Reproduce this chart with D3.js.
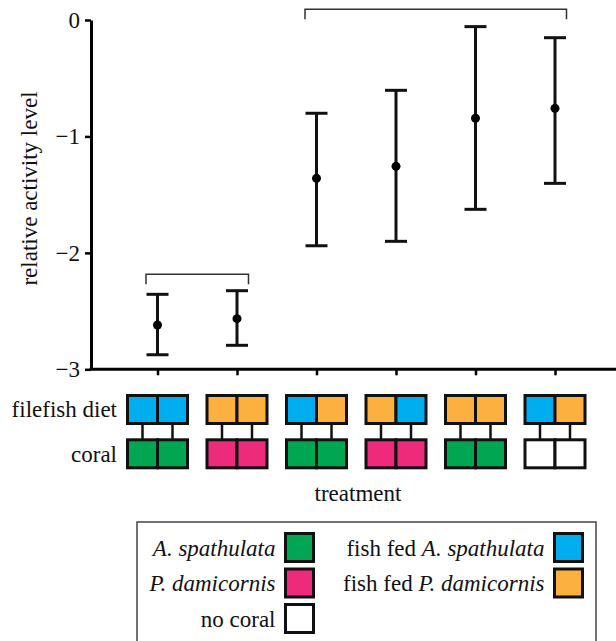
<!DOCTYPE html>
<html>
<head>
<meta charset="utf-8">
<script src="https://cdn.jsdelivr.net/npm/d3@7"></script>
<style>
  body { margin: 0; background: #fff; }
</style>
</head>
<body>
<svg id="fig" width="616" height="641"></svg>
<script>
// treatments, left to right
const treatments = ["T1", "T2", "T3", "T4", "T5", "T6"];
const means = [-2.62, -2.565, -1.36, -1.257, -0.844, -0.759];
const upper = [-2.356, -2.325, -0.801, -0.604, -0.057, -0.152];
const lower = [-2.875, -2.794, -1.939, -1.901, -1.626, -1.403];
const yTicks = [0, -1, -2, -3];

// filefish diet / coral of the two cells in each treatment
const dietCells = [["Af", "Af"], ["Pf", "Pf"], ["Af", "Pf"], ["Pf", "Af"], ["Pf", "Pf"], ["Af", "Pf"]];
const coralCells = [["A", "A"], ["P", "P"], ["A", "A"], ["P", "P"], ["A", "A"], ["N", "N"]];

// significance brackets (treatment index range, height in data units)
const brackets = [{ from: 0, to: 1, y: -2.184 }, { from: 2, to: 5, y: 0.092 }];

const fills = { A: "#00a651", P: "#ee2a7b", N: "#ffffff", Af: "#00aeef", Pf: "#fbb040" };

const legendLeft = [
  { key: "A", parts: [["A. spathulata", true]] },
  { key: "P", parts: [["P. damicornis", true]] },
  { key: "N", parts: [["no coral", false]] }
];
const legendRight = [
  { key: "Af", parts: [["fish fed ", false], ["A. spathulata", true]] },
  { key: "Pf", parts: [["fish fed ", false], ["P. damicornis", true]] }
];

const svg = d3.select("#fig");
const fontSize = 23;

const label = (sel) => sel
  .style("font-family", "Liberation Serif", "important")
  .style("font-size", fontSize + "px")
  .style("fill", "#111");

const y = d3.scaleLinear().domain([-3, 0]).range([369.3, 20]);
const x = d3.scalePoint().domain(treatments).range([157.5, 555]);
const axisX = 91;

// y axis
const yAxis = svg.append("g")
  .attr("transform", `translate(${axisX},0)`)
  .call(d3.axisLeft(y).tickValues(yTicks).tickSize(6).tickSizeOuter(0).tickPadding(5).tickFormat(d3.format("d")));
yAxis.select(".domain").attr("stroke-width", 3);
yAxis.selectAll(".tick line").attr("stroke-width", 2.5);
yAxis.selectAll(".tick text").call(label);

// x axis
svg.append("line")
  .attr("x1", axisX - 1.5).attr("x2", 616)
  .attr("y1", y(-3)).attr("y2", y(-3))
  .attr("stroke", "#000").attr("stroke-width", 3);
const xAxis = svg.append("g")
  .attr("transform", `translate(0,${y(-3)})`)
  .call(d3.axisBottom(x).tickSize(6).tickSizeOuter(0).tickFormat(""));
xAxis.select(".domain").remove();
xAxis.selectAll(".tick line").attr("stroke-width", 2.5);

svg.append("text")
  .attr("transform", "translate(37,188.5) rotate(-90)")
  .attr("text-anchor", "middle")
  .call(label)
  .text("relative activity level");

// error bars
const bars = svg.append("g").selectAll("g")
  .data(treatments)
  .enter()
  .append("g");
bars.append("line")
  .attr("x1", d => x(d)).attr("x2", d => x(d))
  .attr("y1", (d, i) => y(upper[i])).attr("y2", (d, i) => y(lower[i]))
  .attr("stroke", "#111").attr("stroke-width", 3);
bars.append("line")
  .attr("x1", d => x(d) - 11).attr("x2", d => x(d) + 11)
  .attr("y1", (d, i) => y(upper[i])).attr("y2", (d, i) => y(upper[i]))
  .attr("stroke", "#111").attr("stroke-width", 3);
bars.append("line")
  .attr("x1", d => x(d) - 11).attr("x2", d => x(d) + 11)
  .attr("y1", (d, i) => y(lower[i])).attr("y2", (d, i) => y(lower[i]))
  .attr("stroke", "#111").attr("stroke-width", 3);
bars.append("circle")
  .attr("cx", d => x(d)).attr("cy", (d, i) => y(means[i]))
  .attr("r", 4.5).attr("fill", "#000");

// brackets
svg.append("g").selectAll("path")
  .data(brackets)
  .enter()
  .append("path")
  .attr("d", b => {
    const x0 = x(treatments[b.from]) - 11.5, x1 = x(treatments[b.to]) + 11.5, yy = y(b.y);
    return `M${x0},${yy + 10}V${yy}H${x1}V${yy + 10}`;
  })
  .attr("fill", "none").attr("stroke", "#333").attr("stroke-width", 1.5);

// treatment key below axis
const cell = 30, topRow = 395.5, botRow = 439.8, cellH = 28;
const keys = svg.append("g").selectAll("g")
  .data(treatments)
  .enter()
  .append("g")
  .attr("transform", d => `translate(${x(d)},0)`);
keys.each(function(d, i) {
  const g = d3.select(this);
  [-1, 1].forEach((side, j) => {
    const cx = side * cell / 2;
    g.append("line")
      .attr("x1", cx).attr("x2", cx)
      .attr("y1", topRow + cellH).attr("y2", botRow)
      .attr("stroke", "#111").attr("stroke-width", 2.5);
    g.append("rect")
      .attr("x", j === 0 ? -cell : 0).attr("y", topRow)
      .attr("width", cell).attr("height", cellH)
      .attr("fill", fills[dietCells[i][j]])
      .attr("stroke", "#111").attr("stroke-width", 3);
    g.append("rect")
      .attr("x", j === 0 ? -cell : 0).attr("y", botRow)
      .attr("width", cell).attr("height", cellH)
      .attr("fill", fills[coralCells[i][j]])
      .attr("stroke", "#111").attr("stroke-width", 3);
  });
});

svg.append("text").attr("x", 117).attr("y", 417).attr("text-anchor", "end")
  .call(label).text("filefish diet");
svg.append("text").attr("x", 117).attr("y", 462).attr("text-anchor", "end")
  .call(label).text("coral");
svg.append("text").attr("x", 358).attr("y", 501).attr("text-anchor", "middle")
  .call(label).text("treatment");

// legend
svg.append("rect")
  .attr("x", 137).attr("y", 522).attr("width", 459).attr("height", 140)
  .attr("fill", "none").attr("stroke", "#444").attr("stroke-width", 1.5);

const legendRow = i => 533.5 + i * 35.5;
function legendColumn(items, boxX) {
  const rows = svg.append("g").selectAll("g")
    .data(items)
    .enter()
    .append("g")
    .attr("transform", (d, i) => `translate(0,${legendRow(i)})`);
  rows.append("rect")
    .attr("x", boxX).attr("y", 0)
    .attr("width", 28).attr("height", 28)
    .attr("fill", d => fills[d.key])
    .attr("stroke", "#111").attr("stroke-width", 3);
  const t = rows.append("text")
    .attr("x", boxX - 10).attr("y", 22)
    .attr("text-anchor", "end")
    .call(label);
  t.selectAll("tspan")
    .data(d => d.parts)
    .enter()
    .append("tspan")
    .style("font-style", p => p[1] ? "italic" : "normal")
    .text(p => p[0]);
}
legendColumn(legendLeft, 285.5);
legendColumn(legendRight, 554.5);
</script>
</body>
</html>
